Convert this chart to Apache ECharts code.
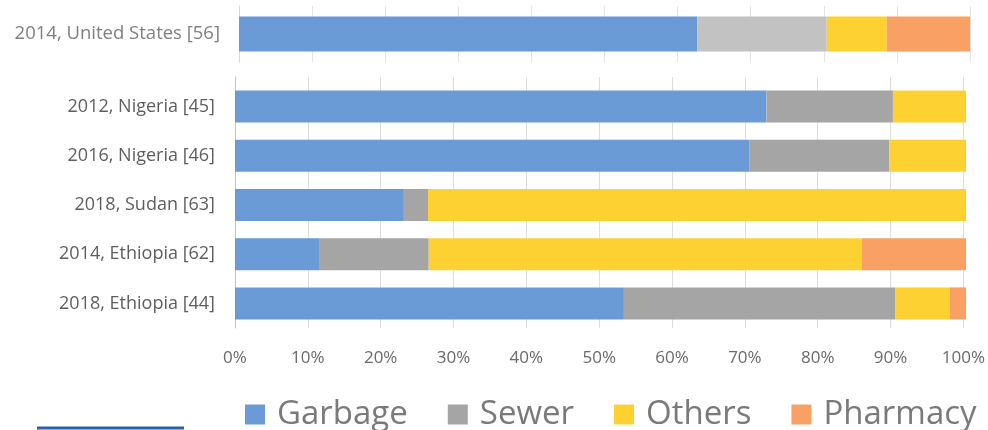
<!DOCTYPE html>
<html>
<head>
<meta charset="utf-8">
<script src="https://cdn.jsdelivr.net/npm/echarts@6/dist/echarts.min.js"></script>
<style>
  html, body { margin: 0; padding: 0; background: #fff; }
  #chart { width: 988px; height: 430px; }
</style>
</head>
<body>
<div id="chart"></div>
<script>
// top panel (separate study)
const topCategory = ['2014, United States [56]'];
const topGarbage = [62.7];
const topSewer = [17.7];
const topOthers = [8.2];
const topPharmacy = [11.4];

// main panel, listed top to bottom
const categories = ['2012, Nigeria [45]', '2016, Nigeria [46]', '2018, Sudan [63]', '2014, Ethiopia [62]', '2018, Ethiopia [44]'];
const garbage = [72.7, 70.4, 23.1, 11.6, 53.2];
const sewer = [17.3, 19.1, 3.3, 14.9, 37.1];
const others = [10.0, 10.5, 73.6, 59.2, 7.5];
const pharmacy = [0, 0, 0, 14.3, 2.2];

const tickLabels = ['0%', '10%', '20%', '30%', '40%', '50%', '60%', '70%', '80%', '90%', '100%'];
const seriesNames = ['Garbage', 'Sewer', 'Others', 'Pharmacy'];

const colors = {
  Garbage: '#6a9bd6',
  Sewer: '#a5a5a5',
  Others: '#fed133',
  Pharmacy: '#f9a064',
};

const chart = echarts.init(document.getElementById('chart'));

function barSeries(name, data, xi, color) {
  return {
    name: name,
    type: 'bar',
    stack: 'g' + xi,
    xAxisIndex: xi,
    yAxisIndex: xi,
    data: data,
    barWidth: xi === 0 ? 32 : 35,
    itemStyle: { color: color || colors[name] },
    silent: true,
  };
}

chart.setOption({
  animation: false,
  legend: {
    data: seriesNames,
    left: 240,
    top: 393,
    icon: 'rect',
    itemWidth: 20,
    itemHeight: 20,
    itemGap: 40,
    textStyle: {
      fontFamily: 'Open Sans',
      fontSize: 33,
      color: '#7a7a7a',
      padding: [0, 0, 0, 7],
    },
  },
  grid: [
    // main bars
    { left: 235, width: 731, top: 82, height: 246 },
    // top panel
    { left: 239, width: 731, top: 6, height: 56 },
    // main gridlines (reach a bit above the bars)
    { left: 235, width: 731, top: 77, height: 251 },
  ],
  xAxis: [
    {
      gridIndex: 0, type: 'value', min: 0, max: 100, interval: 10,
      axisLine: { show: false }, axisTick: { show: false },
      splitLine: { show: false },
      axisLabel: { show: false },
    },
    {
      gridIndex: 1, type: 'value', min: 0, max: 100, interval: 10,
      axisLine: { show: false }, axisTick: { show: false },
      splitLine: { show: true, lineStyle: { color: '#e3e3e3', width: 1 } },
      axisLabel: { show: false },
    },
    {
      gridIndex: 2, type: 'value', min: 0, max: 100, interval: 10,
      axisLine: { show: false }, axisTick: { show: false },
      splitLine: { show: true, lineStyle: { color: '#dedede', width: 1 } },
      axisLabel: {
        margin: 22,
        fontFamily: 'Open Sans',
        fontSize: 17,
        color: '#6a6a6a',
        formatter: (v) => tickLabels[v / 10],
      },
    },
  ],
  yAxis: [
    {
      gridIndex: 0, type: 'category', inverse: true, data: categories,
      axisLine: { show: false }, axisTick: { show: false },
      axisLabel: {
        margin: 20,
        fontFamily: 'Open Sans',
        fontSize: 18,
        color: '#5e5e5e',
      },
    },
    {
      gridIndex: 1, type: 'category', data: topCategory,
      axisLine: { show: true, lineStyle: { color: '#d6d6d6' } },
      axisTick: { show: false },
      axisLabel: {
        margin: 19,
        fontFamily: 'Open Sans',
        fontSize: 18.5,
        color: '#7f7f7f',
      },
    },
    {
      gridIndex: 2, type: 'category', data: [''],
      axisLine: { show: true, lineStyle: { color: '#c4c4c4' } },
      axisTick: { show: false },
      axisLabel: { show: false },
    },
  ],
  series: [
    barSeries('Garbage', garbage, 0),
    barSeries('Sewer', sewer, 0),
    barSeries('Others', others, 0),
    barSeries('Pharmacy', pharmacy, 0),
    barSeries('Garbage', topGarbage, 1),
    barSeries('Sewer', topSewer, 1, '#c2c2c2'),
    barSeries('Others', topOthers, 1),
    barSeries('Pharmacy', topPharmacy, 1),
  ],
  graphic: [
    {
      type: 'rect',
      shape: { x: 37, y: 426.5, width: 147, height: 3 },
      style: { fill: '#2a62aa' },
      silent: true,
    },
  ],
});

window.addEventListener('resize', () => { chart.resize(); });
</script>
</body>
</html>
